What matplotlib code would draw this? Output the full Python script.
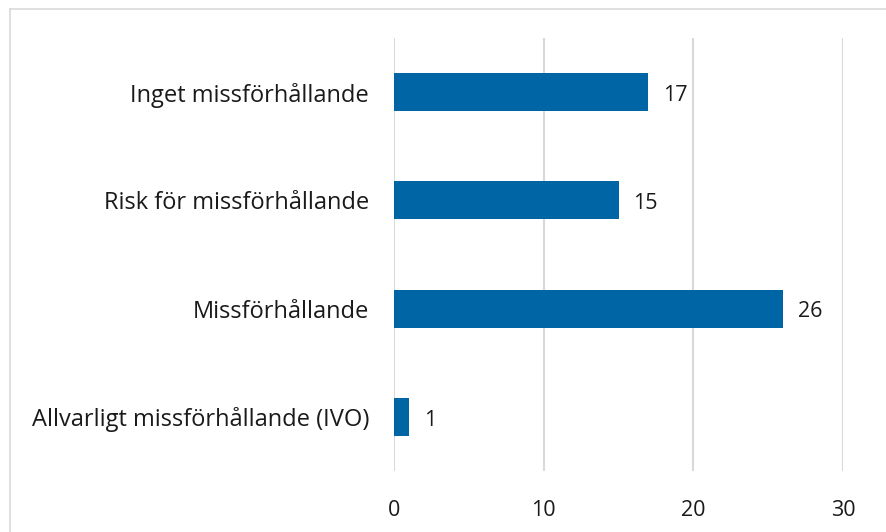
import matplotlib.pyplot as plt
from matplotlib.lines import Line2D

categories = ["Allvarligt missförhållande (IVO)", "Missförhållande",
              "Risk för missförhållande", "Inget missförhållande"]
values = [1, 26, 15, 17]
ticks = [0, 10, 20, 30]

plt.rcParams['font.family'] = ['Open Sans', 'DejaVu Sans']

fig = plt.figure(figsize=(8.86, 5.32), dpi=100)
ax = fig.add_axes([394 / 886, 1 - 471 / 532, (843 - 394) / 886, (471 - 38) / 532])

ax.barh(range(len(categories)), values, height=0.35, color='#0065A4', zorder=3)
for i, v in enumerate(values):
    # nudge labels down slightly to sit like the reference
    ax.text(v + 1, i - 0.03, str(v), va='center', ha='left', fontsize=15.5, color='#1a1a1a')

ax.set_xlim(0, 30)
ax.set_ylim(-0.5, len(categories) - 0.5)
ax.set_xticks(ticks)
ax.set_xticklabels([str(t) for t in ticks], fontsize=15.5, color='#1a1a1a')
ax.set_yticks(range(len(categories)))
ax.set_yticklabels(categories, fontsize=17, color='#1a1a1a', va='center_baseline')
ax.tick_params(axis='both', length=0)
ax.tick_params(axis='x', pad=21)
ax.tick_params(axis='y', pad=18)
ax.grid(axis='x', color='#D9D9D9', linewidth=1.5, zorder=0)
for s in ax.spines.values():
    s.set_visible(False)

# outer frame (top and left edges visible)
fig.add_artist(Line2D([10 / 886, 1], [1 - 9 / 532, 1 - 9 / 532], color='#D9D9D9', lw=1.2))
fig.add_artist(Line2D([10 / 886, 10 / 886], [0, 1 - 9 / 532], color='#D9D9D9', lw=1.2))

fig.savefig('out.png', dpi=100)
